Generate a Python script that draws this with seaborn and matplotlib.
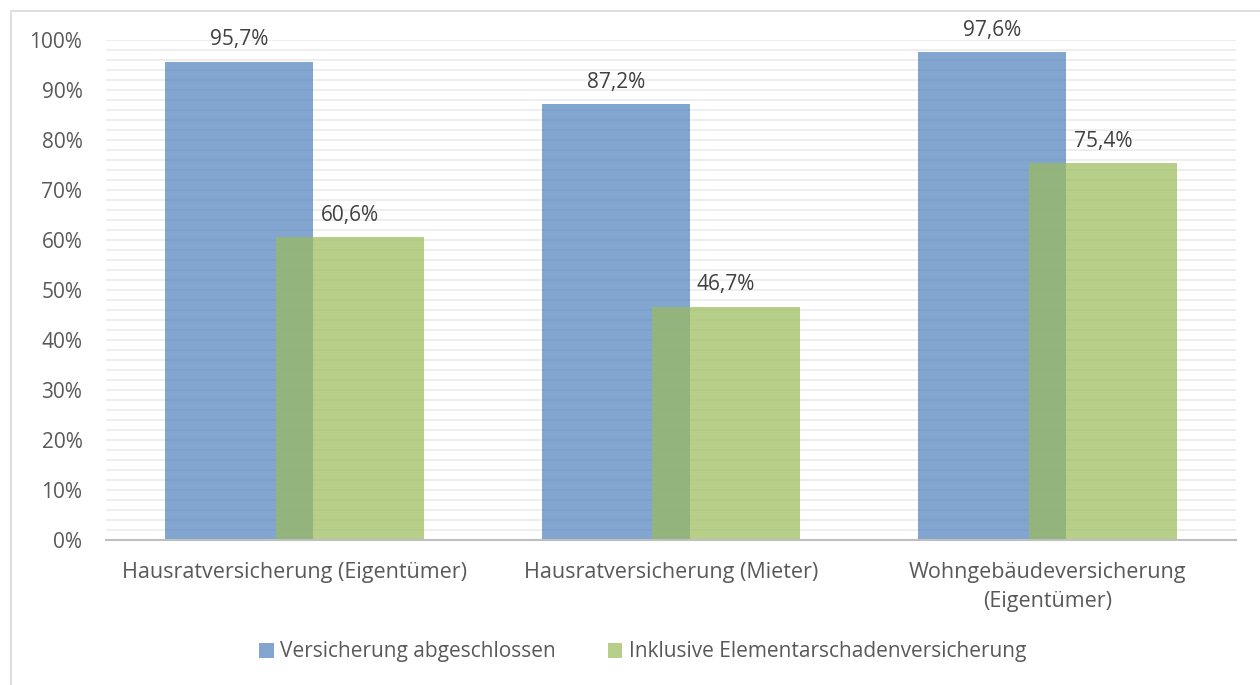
import matplotlib
matplotlib.use("Agg")
import matplotlib.pyplot as plt
import seaborn as sns
import pandas as pd
from matplotlib.patches import Rectangle
from matplotlib.ticker import MultipleLocator, FuncFormatter

categories = ["Hausratversicherung (Eigentümer)", "Hausratversicherung (Mieter)",
              "Wohngebäudeversicherung\n(Eigentümer)"]
series = ["Versicherung abgeschlossen", "Inklusive Elementarschadenversicherung"]
abgeschlossen = [95.7, 87.2, 97.6]
elementar = [60.6, 46.7, 75.4]
yticks = [0, 10, 20, 30, 40, 50, 60, 70, 80, 90, 100]

df = pd.DataFrame({
    "Kategorie": categories * 2,
    "Wert": abgeschlossen + elementar,
    "Serie": [series[0]] * 3 + [series[1]] * 3,
})

sns.set_theme(style="white")
plt.rcParams["font.family"] = ["Open Sans", "DejaVu Sans"]
text_color = "#595959"
fs = 15

fig = plt.figure(figsize=(12.6, 6.85), dpi=100)
ax = fig.add_axes([106 / 1260, 1 - 540 / 685, 1130 / 1260, 500 / 685])

palette = {series[0]: "#4F81BD", series[1]: "#9BBB59"}
sns.barplot(data=df, x="Kategorie", y="Wert", hue="Serie", order=categories,
            hue_order=series, palette=palette, width=0.586, gap=-0.341,
            alpha=0.7, saturation=1, linewidth=0, ax=ax, legend=False, zorder=3)

for cont in ax.containers:
    ax.bar_label(cont, labels=[f"{v:.1f}%".replace(".", ",") for v in cont.datavalues],
                 padding=8, fontsize=fs, color="#404040", clip_on=False)

ax.set_ylim(0, 100)
ax.set_xlim(-0.5, 2.5)
ax.set_yticks(yticks)
ax.yaxis.set_minor_locator(MultipleLocator(2))
ax.yaxis.set_major_formatter(FuncFormatter(lambda v, p: f"{int(v)}%"))
ax.grid(which="both", axis="y", color="#EDEDED", linewidth=1.3, zorder=0)
ax.set_axisbelow(True)
for s in ["left", "right", "top"]:
    ax.spines[s].set_visible(False)
ax.spines["bottom"].set_color("#BFBFBF")
ax.spines["bottom"].set_linewidth(1.5)
ax.spines["bottom"].set_zorder(4)
ax.tick_params(axis="y", which="both", length=0, labelsize=fs, labelcolor=text_color, pad=17)
ax.tick_params(axis="x", length=0, labelsize=15.5, labelcolor=text_color, pad=16)
for lbl in ax.get_xticklabels():
    lbl.set_linespacing(1.5)
ax.set_xlabel("")
ax.set_ylabel("")

handles = [Rectangle((0, 0), 1, 1, color=palette[s], alpha=0.7, linewidth=0) for s in series]
fig.legend(handles, series, loc="center", bbox_to_anchor=(0.51, 1 - 652 / 685), ncol=2,
           frameon=False, fontsize=fs, labelcolor=text_color, handlelength=0.7,
           handleheight=0.7, handletextpad=0.3, columnspacing=2.5)

fig.add_artist(Rectangle((11 / 1260, -0.1), 1.2, 1.1 - 11 / 685 + 0.0, transform=fig.transFigure,
                         fill=False, edgecolor="#D9D9D9", linewidth=1.2))

fig.savefig("out.png", dpi=100)
